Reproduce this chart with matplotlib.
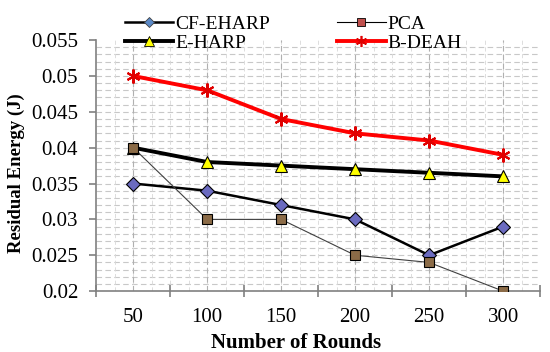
import matplotlib
matplotlib.use("Agg")
import matplotlib.pyplot as plt
from matplotlib.lines import Line2D
import numpy as np

plt.rcParams['font.family'] = ['Liberation Serif', 'DejaVu Serif']

rounds = [50, 100, 150, 200, 250, 300]
cf_eharp = [0.035, 0.034, 0.032, 0.030, 0.025, 0.029]
pca = [0.040, 0.030, 0.030, 0.025, 0.024, 0.020]
e_harp = [0.040, 0.038, 0.0375, 0.037, 0.0365, 0.036]
b_deah = [0.050, 0.048, 0.044, 0.042, 0.041, 0.039]
yticks = [0.02, 0.025, 0.03, 0.035, 0.04, 0.045, 0.05, 0.055]
ytick_labels = ['0.02', '0.025', '0.03', '0.035', '0.04', '0.045', '0.05', '0.055']

fig = plt.figure(figsize=(5.5, 3.52), dpi=100)
ax = fig.add_axes([0.175, 0.173, 0.807, 0.713])

ax.set_xlim(25, 325)
ax.set_ylim(0.02, 0.055)

# grid
for y in np.arange(0.021, 0.055, 0.001):
    ax.axhline(y, color='#c8c8c8', lw=0.8, ls=(0, (5, 3)), zorder=0)
for x in np.arange(37.5, 325, 12.5):
    ax.axvline(x, color='#d8d8d8', lw=0.6, ls=(0, (5, 3)), zorder=0)
for x in rounds:
    ax.axvline(x, color='#b0b0b0', lw=0.8, ls=(0, (5, 3)), zorder=0)

ax.plot(rounds, b_deah, color='#ff0000', lw=2.8, marker=(6, 2, 0), ms=10,
        mec='#e00000', mew=1.5, zorder=3)
ax.plot(rounds, e_harp, color='black', lw=2.8, marker='^', ms=9,
        mfc='#ffff00', mec='black', mew=0.8, zorder=4)
ax.plot(rounds, cf_eharp, color='black', lw=1.8, marker='D', ms=7,
        mfc='#6b6bc0', mec='black', mew=0.8, zorder=5)
ax.plot(rounds, pca, color='#404040', lw=0.8, marker='s', ms=7,
        mfc='#8b6b47', mec='black', mew=0.8, zorder=6)

ax.set_xticks(rounds)
ax.set_xticklabels([str(r) for r in rounds], fontsize=15)
ax.set_xticks(np.arange(25, 326, 50), minor=True)
ax.tick_params(axis='x', which='major', length=0, pad=12)
ax.tick_params(axis='x', which='minor', length=8, direction='inout', color='#808080', width=1.2)
ax.set_yticks(yticks)
ax.set_yticklabels(ytick_labels, fontsize=15)
ax.tick_params(axis='y', length=5, direction='out', color='#808080', pad=8, width=1.2)

for s in ['top', 'right']:
    ax.spines[s].set_visible(False)
for s in ['left', 'bottom']:
    ax.spines[s].set_color('#808080')
    ax.spines[s].set_linewidth(1.2)

ax.set_xlabel('Number of Rounds', fontsize=15, fontweight='bold')
ax.xaxis.set_label_coords(0.45, -0.165)
ax.set_ylabel('Residual Energy (J)', fontsize=13.5, fontweight='bold')
ax.yaxis.set_label_coords(-0.16, 0.47)

handles = [
    Line2D([], [], color='black', lw=1.8, marker='D', ms=5, mfc='#5b8ac8', mec='#404040', mew=0.6),
    Line2D([], [], color='black', lw=2.8, marker='^', ms=7, mfc='#ffff00', mec='black', mew=0.6),
    Line2D([], [], color='black', lw=0.8, marker='s', ms=6, mfc='#c0504d', mec='black', mew=0.6),
    Line2D([], [], color='#ff0000', lw=2.8, marker=(6, 2, 0), ms=8, mec='#e00000', mew=1.2),
]
labels = ['CF-EHARP', 'E-HARP', 'PCA', 'B-DEAH']
fig.legend(handles, labels, ncol=2, loc='upper left', bbox_to_anchor=(0.202, 0.995),
           frameon=False, fontsize=14, handlelength=2.5, handletextpad=0.1,
           columnspacing=3.45, labelspacing=0.05, borderpad=0.2)

fig.savefig('out.png', dpi=100)
